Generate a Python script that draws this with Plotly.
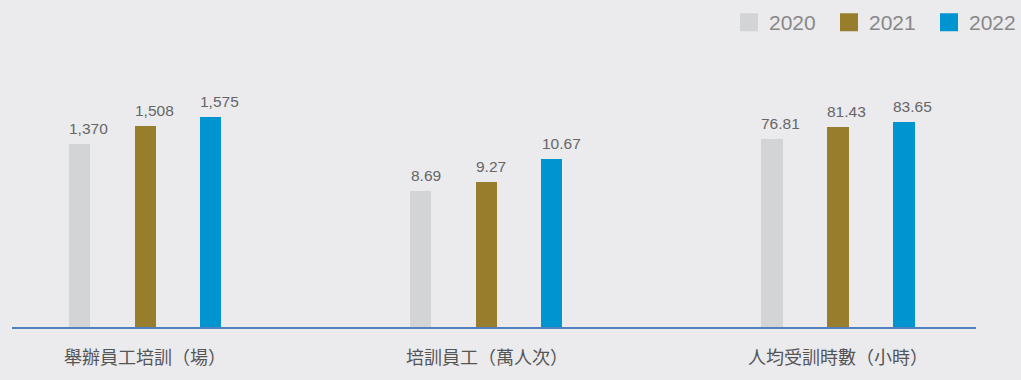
import plotly.graph_objects as go

# Training statistics, one panel per metric, each with its own value scale
years = ["2020", "2021", "2022"]
metrics = ["舉辦員工培訓（場）", "培訓員工（萬人次）", "人均受訓時數（小時）"]
sessions = [1370, 1508, 1575]
trainees = [8.69, 9.27, 10.67]
hours_per_person = [76.81, 81.43, 83.65]
year_colors = ["#d3d4d6", "#977d2c", "#0095d1"]

panel_values = [sessions, trainees, hours_per_person]
panel_formats = ["{:,}", "{:.2f}", "{:.2f}"]

W, H = 1021, 380
BG = "#ebebee"
FONT = "Liberation Sans, Arial, Noto Sans CJK TC, sans-serif"
CJK_FONT = "Noto Sans CJK JP, Noto Sans CJK TC, sans-serif"

# panel layout (pixels) and value ranges
panel_px = [(46.75, 243.25), (388.25, 584.75), (738.5, 936.5)]
panel_ymax = [2448, 20.76, 133.1]
base_px = 328
bar_w = 0.32
base_frac = (H - base_px) / H

fig = go.Figure()

for i, (vals, fmt) in enumerate(zip(panel_values, panel_formats)):
    ax = "" if i == 0 else str(i + 1)
    fig.add_trace(go.Bar(
        x=years, y=vals,
        marker=dict(color=year_colors, line=dict(width=0)),
        width=bar_w,
        xaxis="x" + ax, yaxis="y" + ax,
        showlegend=False, hoverinfo="skip",
    ))
    x0, x1 = panel_px[i]
    half_bar_px = bar_w * (x1 - x0) / len(years) / 2
    # value labels sit above each bar, left-aligned with the bar edge
    for j, v in enumerate(vals):
        fig.add_annotation(
            x=j, y=v, xref="x" + ax, yref="y" + ax,
            text=fmt.format(v), showarrow=False,
            xanchor="left", yanchor="bottom",
            xshift=-half_bar_px - 2, yshift=5,
            font=dict(family=FONT, size=15.5, color="#666666"),
        )
    fig.add_annotation(
        x=0.5, y=(H - 356) / H, xref="x" + ax + " domain", yref="paper",
        text=metrics[i], showarrow=False,
        xanchor="center", yanchor="middle",
        font=dict(family=CJK_FONT, size=18, color="#555555"),
    )
    dom = [x0 / W, x1 / W]
    fig.update_layout({
        "xaxis" + ax: dict(domain=dom, type="category", range=[-0.5, 2.5],
                           showticklabels=False, showgrid=False, zeroline=False,
                           showline=False, ticks="", fixedrange=True),
        "yaxis" + ax: dict(domain=[base_frac, 1], range=[0, panel_ymax[i]],
                           showticklabels=False, showgrid=False, zeroline=False,
                           showline=False, ticks="", fixedrange=True,
                           anchor="x" + ax),
    })

# baseline across all panels, level with the bottom of the plot domains
fig.add_shape(type="line", xref="paper", yref="paper", x0=12 / W, x1=976 / W,
              y0=base_frac, y1=base_frac,
              line=dict(color="#4f80c2", width=2), layer="above")

# legend entries for the three years
for yr, c in zip(years, year_colors):
    fig.add_trace(go.Scatter(
        x=[None], y=[None], mode="markers", name=yr,
        marker=dict(symbol="square", size=16, color=c, line=dict(color=c, width=2)),
        showlegend=True, hoverinfo="skip",
    ))

fig.update_layout(
    width=W, height=H,
    margin=dict(l=0, r=0, t=0, b=0, autoexpand=False),
    paper_bgcolor=BG, plot_bgcolor=BG,
    bargap=0,
    showlegend=True,
    legend=dict(orientation="h", x=729 / W, xanchor="left",
                y=1 - 2 / H, yanchor="top",
                font=dict(family=FONT, size=21, color="#888888"),
                bgcolor="rgba(0,0,0,0)", itemclick=False, itemdoubleclick=False,
                entrywidth=55, entrywidthmode="pixels"),
)

fig.write_html("out.html", config={"displayModeBar": False})
